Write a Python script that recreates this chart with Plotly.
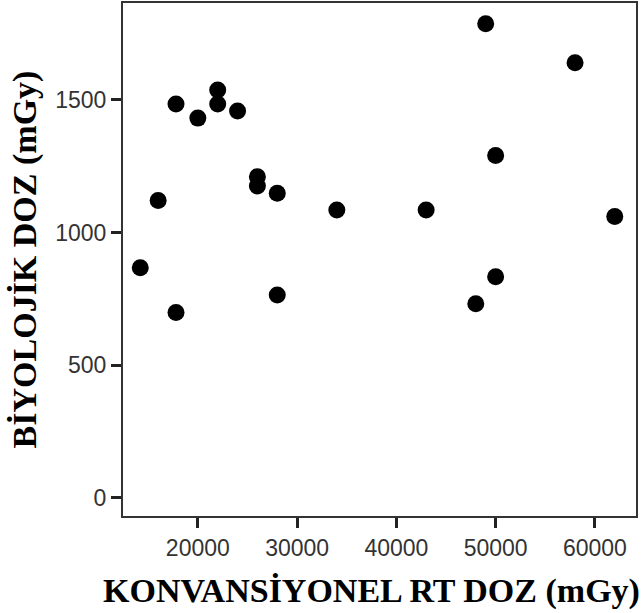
import plotly.graph_objects as go

# Data
rt_dose = [17800, 20000, 22000, 22000, 24000, 49000, 58000, 50000, 26000, 26000,
           28000, 16000, 34000, 43000, 62000, 14200, 50000, 28000, 48000, 17800]
bio_dose = [1484, 1431, 1537, 1484, 1458, 1787, 1640, 1290, 1210, 1175,
            1148, 1120, 1085, 1085, 1060, 867, 833, 764, 731, 698]

x_ticks = [20000, 30000, 40000, 50000, 60000]
y_ticks = [0, 500, 1000, 1500]

x_title = "KONVANSİYONEL RT DOZ (mGy)"
y_title = "BİYOLOJİK DOZ (mGy)"

fig = go.Figure(go.Scatter(
    x=rt_dose, y=bio_dose, mode="markers",
    marker=dict(color="black", size=17, line=dict(width=0)),
    showlegend=False,
))

tick_font = dict(family="Liberation Sans", size=23, color="#333")
title_font = dict(family="Liberation Serif", size=34, color="black", weight="bold")

fig.update_layout(
    width=643, height=613,
    margin=dict(l=123, r=7, t=3, b=97),
    paper_bgcolor="white", plot_bgcolor="white",
    xaxis=dict(
        range=[12460, 64140], tickvals=x_ticks, ticktext=[str(v) for v in x_ticks],
        showgrid=False, zeroline=False, showline=True, mirror=True,
        linecolor="#333", linewidth=2, ticks="outside", ticklen=10, tickwidth=3,
        tickcolor="#222", tickfont=tick_font,
        automargin=False,
    ),
    yaxis=dict(
        range=[-69, 1865], tickvals=y_ticks, ticktext=[str(v) for v in y_ticks],
        showgrid=False, zeroline=False, showline=True, mirror=True,
        linecolor="#333", linewidth=2, ticks="outside", ticklen=10, tickwidth=3,
        tickcolor="#222", tickfont=tick_font,
        title=dict(text=y_title, font=title_font, standoff=8),
        automargin=False,
    ),
    annotations=[dict(
        text=x_title, xref="paper", yref="paper", x=0.485, y=-0.147,
        xanchor="center", yanchor="middle", showarrow=False, font=title_font,
    )],
)

fig.write_html("out.html")
